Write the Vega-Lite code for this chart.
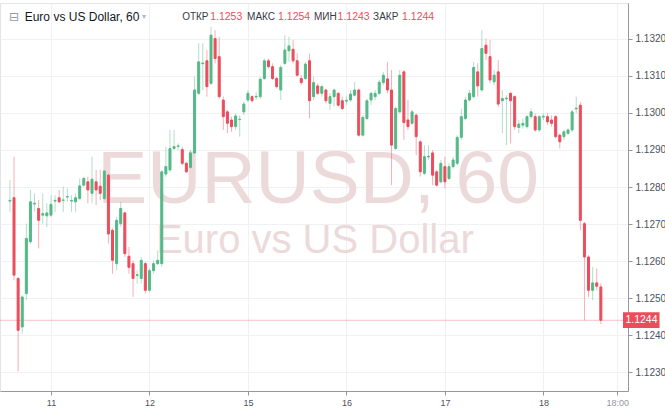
{
  "$schema": "https://vega.github.io/schema/vega-lite/v6.json",
  "width": 628,
  "height": 388,
  "autosize": {"type": "none"},
  "padding": {"left": 0, "top": 3, "right": 37, "bottom": 19},
  "background": "white",
  "config": {"view": {"stroke": "#e0e3eb"}, "font": "Liberation Sans"},
  "datasets": {
    "one": [{}],
    "candles": [
      {"i":1,"o":1.12762,"h":1.12819,"l":1.12733,"c":1.12764},
      {"i":2,"o":1.12771,"h":1.12882,"l":1.12548,"c":1.12562},
      {"i":3,"o":1.12553,"h":1.12557,"l":1.12302,"c":1.12413},
      {"i":4,"o":1.12422,"h":1.12508,"l":1.12404,"c":1.12503},
      {"i":5,"o":1.12512,"h":1.12701,"l":1.12494,"c":1.12661},
      {"i":6,"o":1.12652,"h":1.12792,"l":1.12647,"c":1.12760},
      {"i":7,"o":1.12754,"h":1.12783,"l":1.12733,"c":1.12756},
      {"i":8,"o":1.12742,"h":1.12765,"l":1.12634,"c":1.12710},
      {"i":9,"o":1.12724,"h":1.12783,"l":1.12701,"c":1.12728},
      {"i":10,"o":1.12722,"h":1.12756,"l":1.12692,"c":1.12730},
      {"i":11,"o":1.12724,"h":1.12778,"l":1.12719,"c":1.12753},
      {"i":12,"o":1.12762,"h":1.12778,"l":1.12733,"c":1.12764},
      {"i":13,"o":1.12771,"h":1.12792,"l":1.12756,"c":1.12760},
      {"i":14,"o":1.12764,"h":1.12801,"l":1.12733,"c":1.12765},
      {"i":15,"o":1.12773,"h":1.12796,"l":1.12760,"c":1.12774},
      {"i":16,"o":1.12762,"h":1.12778,"l":1.12733,"c":1.12764},
      {"i":17,"o":1.12760,"h":1.12783,"l":1.12733,"c":1.12771},
      {"i":18,"o":1.12769,"h":1.12823,"l":1.12765,"c":1.12803},
      {"i":19,"o":1.12805,"h":1.12828,"l":1.12801,"c":1.12823},
      {"i":20,"o":1.12814,"h":1.12828,"l":1.12756,"c":1.12792},
      {"i":21,"o":1.12783,"h":1.12882,"l":1.12756,"c":1.12821},
      {"i":22,"o":1.12814,"h":1.12846,"l":1.12751,"c":1.12792},
      {"i":23,"o":1.12802,"h":1.12846,"l":1.12765,"c":1.12783},
      {"i":24,"o":1.12769,"h":1.12846,"l":1.12765,"c":1.12843},
      {"i":25,"o":1.12832,"h":1.12837,"l":1.12647,"c":1.12673},
      {"i":26,"o":1.12683,"h":1.12688,"l":1.12566,"c":1.12602},
      {"i":27,"o":1.12593,"h":1.12719,"l":1.12575,"c":1.12710},
      {"i":28,"o":1.12701,"h":1.12760,"l":1.12692,"c":1.12742},
      {"i":29,"o":1.12730,"h":1.12733,"l":1.12611,"c":1.12620},
      {"i":30,"o":1.12613,"h":1.12638,"l":1.12566,"c":1.12583},
      {"i":31,"o":1.12593,"h":1.12602,"l":1.12503,"c":1.12553},
      {"i":32,"o":1.12561,"h":1.12575,"l":1.12539,"c":1.12563},
      {"i":33,"o":1.12553,"h":1.12611,"l":1.12539,"c":1.12602},
      {"i":34,"o":1.12593,"h":1.12598,"l":1.12512,"c":1.12521},
      {"i":35,"o":1.12521,"h":1.12580,"l":1.12517,"c":1.12574},
      {"i":36,"o":1.12574,"h":1.12602,"l":1.12566,"c":1.12593},
      {"i":37,"o":1.12593,"h":1.12629,"l":1.12589,"c":1.12602},
      {"i":38,"o":1.12593,"h":1.12846,"l":1.12584,"c":1.12841},
      {"i":39,"o":1.12835,"h":1.12909,"l":1.12828,"c":1.12855},
      {"i":40,"o":1.12846,"h":1.12954,"l":1.12841,"c":1.12904},
      {"i":41,"o":1.12904,"h":1.12954,"l":1.12900,"c":1.12909},
      {"i":42,"o":1.12910,"h":1.12918,"l":1.12900,"c":1.12911},
      {"i":43,"o":1.12901,"h":1.12909,"l":1.12859,"c":1.12864},
      {"i":44,"o":1.12864,"h":1.12868,"l":1.12838,"c":1.12841},
      {"i":45,"o":1.12853,"h":1.12900,"l":1.12850,"c":1.12892},
      {"i":46,"o":1.12892,"h":1.13098,"l":1.12889,"c":1.13062},
      {"i":47,"o":1.13053,"h":1.13188,"l":1.13048,"c":1.13138},
      {"i":48,"o":1.13133,"h":1.13188,"l":1.13062,"c":1.13135},
      {"i":49,"o":1.13141,"h":1.13170,"l":1.13044,"c":1.13071},
      {"i":50,"o":1.13080,"h":1.13233,"l":1.13075,"c":1.13210},
      {"i":51,"o":1.13201,"h":1.13224,"l":1.13134,"c":1.13147},
      {"i":52,"o":1.13152,"h":1.13206,"l":1.13039,"c":1.13044},
      {"i":53,"o":1.13035,"h":1.13044,"l":1.12954,"c":1.12990},
      {"i":54,"o":1.13003,"h":1.13008,"l":1.12945,"c":1.12972},
      {"i":55,"o":1.12981,"h":1.12990,"l":1.12949,"c":1.12963},
      {"i":56,"o":1.12963,"h":1.12999,"l":1.12954,"c":1.12992},
      {"i":57,"o":1.12982,"h":1.12994,"l":1.12936,"c":1.12983},
      {"i":58,"o":1.13003,"h":1.13030,"l":1.12994,"c":1.13024},
      {"i":59,"o":1.13035,"h":1.13062,"l":1.13030,"c":1.13053},
      {"i":60,"o":1.13044,"h":1.13048,"l":1.13028,"c":1.13033},
      {"i":61,"o":1.13043,"h":1.13057,"l":1.13035,"c":1.13045},
      {"i":62,"o":1.13044,"h":1.13098,"l":1.13039,"c":1.13091},
      {"i":63,"o":1.13093,"h":1.13147,"l":1.13089,"c":1.13141},
      {"i":64,"o":1.13141,"h":1.13147,"l":1.13120,"c":1.13125},
      {"i":65,"o":1.13125,"h":1.13134,"l":1.13089,"c":1.13093},
      {"i":66,"o":1.13093,"h":1.13098,"l":1.13066,"c":1.13071},
      {"i":67,"o":1.13062,"h":1.13129,"l":1.13035,"c":1.13123},
      {"i":68,"o":1.13134,"h":1.13210,"l":1.13129,"c":1.13170},
      {"i":69,"o":1.13168,"h":1.13206,"l":1.13138,"c":1.13181},
      {"i":70,"o":1.13172,"h":1.13197,"l":1.13134,"c":1.13141},
      {"i":71,"o":1.13141,"h":1.13161,"l":1.13098,"c":1.13102},
      {"i":72,"o":1.13093,"h":1.13102,"l":1.13075,"c":1.13082},
      {"i":73,"o":1.13093,"h":1.13138,"l":1.13089,"c":1.13132},
      {"i":74,"o":1.13141,"h":1.13161,"l":1.12985,"c":1.13033},
      {"i":75,"o":1.13044,"h":1.13098,"l":1.13035,"c":1.13082},
      {"i":76,"o":1.13073,"h":1.13080,"l":1.13048,"c":1.13053},
      {"i":77,"o":1.13053,"h":1.13075,"l":1.13044,"c":1.13071},
      {"i":78,"o":1.13062,"h":1.13066,"l":1.13026,"c":1.13033},
      {"i":79,"o":1.13026,"h":1.13053,"l":1.13008,"c":1.13044},
      {"i":80,"o":1.13044,"h":1.13066,"l":1.13017,"c":1.13062},
      {"i":81,"o":1.13053,"h":1.13057,"l":1.13017,"c":1.13021},
      {"i":82,"o":1.13033,"h":1.13044,"l":1.13008,"c":1.13012},
      {"i":83,"o":1.13032,"h":1.13044,"l":1.13021,"c":1.13034},
      {"i":84,"o":1.13035,"h":1.13062,"l":1.13030,"c":1.13051},
      {"i":85,"o":1.13048,"h":1.13084,"l":1.13044,"c":1.13062},
      {"i":86,"o":1.13062,"h":1.13066,"l":1.12936,"c":1.12940},
      {"i":87,"o":1.12940,"h":1.12994,"l":1.12936,"c":1.12988},
      {"i":88,"o":1.12985,"h":1.13039,"l":1.12981,"c":1.13033},
      {"i":89,"o":1.13035,"h":1.13057,"l":1.13021,"c":1.13053},
      {"i":90,"o":1.13044,"h":1.13062,"l":1.13035,"c":1.13053},
      {"i":91,"o":1.13053,"h":1.13089,"l":1.13048,"c":1.13083},
      {"i":92,"o":1.13082,"h":1.13111,"l":1.13075,"c":1.13102},
      {"i":93,"o":1.13092,"h":1.13138,"l":1.13053,"c":1.13062},
      {"i":94,"o":1.13062,"h":1.13116,"l":1.12805,"c":1.12913},
      {"i":95,"o":1.12904,"h":1.13017,"l":1.12900,"c":1.13012},
      {"i":96,"o":1.13003,"h":1.13116,"l":1.12999,"c":1.13102},
      {"i":97,"o":1.13111,"h":1.13116,"l":1.12927,"c":1.12974},
      {"i":98,"o":1.12981,"h":1.13035,"l":1.12954,"c":1.12963},
      {"i":99,"o":1.12972,"h":1.13008,"l":1.12967,"c":1.13003},
      {"i":100,"o":1.12994,"h":1.12999,"l":1.12886,"c":1.12936},
      {"i":101,"o":1.12922,"h":1.12927,"l":1.12828,"c":1.12841},
      {"i":102,"o":1.12837,"h":1.12913,"l":1.12832,"c":1.12882},
      {"i":103,"o":1.12881,"h":1.12913,"l":1.12873,"c":1.12883},
      {"i":104,"o":1.12892,"h":1.12900,"l":1.12805,"c":1.12832},
      {"i":105,"o":1.12841,"h":1.12846,"l":1.12801,"c":1.12805},
      {"i":106,"o":1.12814,"h":1.12873,"l":1.12810,"c":1.12864},
      {"i":107,"o":1.12855,"h":1.12882,"l":1.12796,"c":1.12814},
      {"i":108,"o":1.12823,"h":1.12864,"l":1.12819,"c":1.12855},
      {"i":109,"o":1.12855,"h":1.12882,"l":1.12850,"c":1.12873},
      {"i":110,"o":1.12864,"h":1.12940,"l":1.12859,"c":1.12934},
      {"i":111,"o":1.12934,"h":1.13012,"l":1.12927,"c":1.12990},
      {"i":112,"o":1.12985,"h":1.13044,"l":1.12981,"c":1.13035},
      {"i":113,"o":1.13035,"h":1.13062,"l":1.13030,"c":1.13053},
      {"i":114,"o":1.13044,"h":1.13138,"l":1.13039,"c":1.13123},
      {"i":115,"o":1.13111,"h":1.13134,"l":1.13044,"c":1.13073},
      {"i":116,"o":1.13062,"h":1.13224,"l":1.13057,"c":1.13174},
      {"i":117,"o":1.13183,"h":1.13201,"l":1.13143,"c":1.13161},
      {"i":118,"o":1.13152,"h":1.13197,"l":1.13080,"c":1.13089},
      {"i":119,"o":1.13084,"h":1.13116,"l":1.13075,"c":1.13102},
      {"i":120,"o":1.13111,"h":1.13143,"l":1.13017,"c":1.13024},
      {"i":121,"o":1.13033,"h":1.13062,"l":1.12945,"c":1.13039},
      {"i":122,"o":1.13038,"h":1.13048,"l":1.12913,"c":1.13040},
      {"i":123,"o":1.13053,"h":1.13057,"l":1.12918,"c":1.13033},
      {"i":124,"o":1.13044,"h":1.13048,"l":1.12954,"c":1.12963},
      {"i":125,"o":1.12961,"h":1.12981,"l":1.12945,"c":1.12970},
      {"i":126,"o":1.12967,"h":1.12985,"l":1.12958,"c":1.12972},
      {"i":127,"o":1.12963,"h":1.12994,"l":1.12958,"c":1.12990},
      {"i":128,"o":1.12990,"h":1.13012,"l":1.12985,"c":1.13003},
      {"i":129,"o":1.12990,"h":1.12999,"l":1.12949,"c":1.12954},
      {"i":130,"o":1.12954,"h":1.12994,"l":1.12949,"c":1.12990},
      {"i":131,"o":1.12989,"h":1.12999,"l":1.12981,"c":1.12991},
      {"i":132,"o":1.12990,"h":1.12999,"l":1.12967,"c":1.12976},
      {"i":133,"o":1.12981,"h":1.12994,"l":1.12963,"c":1.12972},
      {"i":134,"o":1.12990,"h":1.12994,"l":1.12931,"c":1.12936},
      {"i":135,"o":1.12940,"h":1.12945,"l":1.12904,"c":1.12922},
      {"i":136,"o":1.12936,"h":1.12954,"l":1.12927,"c":1.12949},
      {"i":137,"o":1.12945,"h":1.12958,"l":1.12940,"c":1.12954},
      {"i":138,"o":1.12954,"h":1.13008,"l":1.12949,"c":1.13003},
      {"i":139,"o":1.13011,"h":1.13044,"l":1.12999,"c":1.13013},
      {"i":140,"o":1.13021,"h":1.13030,"l":1.12683,"c":1.12710},
      {"i":141,"o":1.12701,"h":1.12706,"l":1.12440,"c":1.12611},
      {"i":142,"o":1.12611,"h":1.12616,"l":1.12503,"c":1.12521},
      {"i":143,"o":1.12521,"h":1.12584,"l":1.12494,"c":1.12541},
      {"i":144,"o":1.12541,"h":1.12580,"l":1.12521,"c":1.12532},
      {"i":145,"o":1.12530,"h":1.12540,"l":1.12430,"c":1.12440}
    ]
  },
  "layer": [
    {
      "data": {"name": "one"},
      "mark": {"type": "text", "font": "Liberation Sans", "fontSize": 75, "color": "#ecdadb", "align": "center", "baseline": "alphabetic"},
      "encoding": {
        "x": {"datum": 76.1, "scale": {"domain": [-0.2, 150.4], "nice": false, "zero": false},
          "axis": {"orient": "bottom", "values": [11, 35, 59, 83, 107, 131, 149], "title": null,
            "labelExpr": "datum.value == 11 ? '11' : datum.value == 35 ? '12' : datum.value == 59 ? '15' : datum.value == 83 ? '16' : datum.value == 107 ? '17' : datum.value == 131 ? '18' : '18:00'",
            "labelFontSize": 9, "labelFont": "Liberation Sans",
            "labelColor": {"condition": {"test": "datum.value == 149", "value": "#9598a1"}, "value": "#4c525e"},
            "labelPadding": 3, "tickSize": 4, "tickColor": "#9598a1", "domainColor": "#9598a1",
            "grid": true, "gridColor": "#eff1f5", "labelFlush": false}},
        "y": {"datum": 1.12757, "scale": {"domain": [1.12249, 1.13297], "nice": false, "zero": false},
          "axis": {"orient": "right", "values": [1.123, 1.124, 1.125, 1.126, 1.127, 1.128, 1.129, 1.130, 1.131, 1.132],
            "format": ".4f", "title": null, "labelFontSize": 10, "labelFont": "Liberation Sans", "labelColor": "#4c525e",
            "labelPadding": 3, "tickSize": 4, "tickColor": "#9598a1", "domainColor": "#9598a1",
            "grid": true, "gridColor": "#eff1f5"}},
        "text": {"value": "EURUSD, 60"}
      }
    },
    {
      "data": {"name": "one"},
      "mark": {"type": "text", "font": "Liberation Sans", "fontSize": 40, "color": "#ecdadb", "align": "center", "baseline": "alphabetic"},
      "encoding": {
        "x": {"datum": 75.3},
        "y": {"datum": 1.12622},
        "text": {"value": "Euro vs US Dollar"}
      }
    },
    {
      "data": {"name": "one"},
      "mark": {"type": "rule", "color": "#eb4d5c", "opacity": 0.35, "strokeWidth": 1},
      "encoding": {"y": {"datum": 1.1244}}
    },
    {
      "data": {"name": "candles"},
      "mark": {"type": "rule", "strokeWidth": 1, "opacity": 0.45},
      "encoding": {
        "x": {"field": "i", "type": "quantitative"},
        "y": {"field": "l", "type": "quantitative"},
        "y2": {"field": "h"},
        "color": {"condition": {"test": "datum.c < datum.o", "value": "#eb4d5c"}, "value": "#53b987"}
      }
    },
    {
      "data": {"name": "candles"},
      "mark": {"type": "bar", "width": 2, "strokeWidth": 1},
      "encoding": {
        "x": {"field": "i", "type": "quantitative"},
        "y": {"field": "o", "type": "quantitative"},
        "y2": {"field": "c"},
        "fill": {"condition": {"test": "datum.c < datum.o", "value": "#eb4d5c"}, "value": "#53b987"},
        "stroke": {"condition": {"test": "datum.c < datum.o", "value": "#eb4d5c"}, "value": "#53b987"}
      }
    },
    {
      "data": {"name": "one"},
      "mark": {"type": "rect", "color": "#eb4d5c"},
      "encoding": {"x": {"datum": 150.4}, "x2": {"datum": 159.3}, "y": {"datum": 1.12462}, "y2": {"datum": 1.12419}}
    },
    {
      "data": {"name": "one"},
      "mark": {"type": "text", "font": "Liberation Sans", "fontSize": 10.5, "color": "white", "align": "center", "baseline": "middle"},
      "encoding": {"x": {"datum": 154.9}, "y": {"datum": 1.1244}, "text": {"value": "1.1244"}}
    },
    {
      "data": {"name": "one"},
      "mark": {"type": "text", "font": "DejaVu Sans", "fontSize": 12, "color": "#9598a1", "align": "left", "baseline": "middle"},
      "encoding": {"x": {"datum": 0.76}, "y": {"datum": 1.13259}, "text": {"value": "⊟"}}
    },
    {
      "data": {"name": "one"},
      "mark": {"type": "text", "font": "Liberation Sans", "fontSize": 12, "color": "#131722", "align": "left", "baseline": "middle"},
      "encoding": {"x": {"datum": 4.6}, "y": {"datum": 1.13259}, "text": {"value": "Euro vs US Dollar, 60"}}
    },
    {
      "data": {"name": "one"},
      "mark": {"type": "text", "font": "DejaVu Sans", "fontSize": 8, "color": "#b2b5be", "align": "left", "baseline": "middle"},
      "encoding": {"x": {"datum": 33.2}, "y": {"datum": 1.13259}, "text": {"value": "▾"}}
    },
    {
      "data": {"name": "one"},
      "mark": {"type": "text", "font": "Liberation Sans", "fontSize": 10, "color": "#363a45", "align": "left", "baseline": "middle"},
      "encoding": {"x": {"datum": 42.97}, "y": {"datum": 1.13259}, "text": {"value": "ОТКР"}}
    },
    {
      "data": {"name": "one"},
      "mark": {"type": "text", "font": "Liberation Sans", "fontSize": 10.5, "color": "#eb4d5c", "align": "left", "baseline": "middle"},
      "encoding": {"x": {"datum": 49.8}, "y": {"datum": 1.13259}, "text": {"value": "1.1253"}}
    },
    {
      "data": {"name": "one"},
      "mark": {"type": "text", "font": "Liberation Sans", "fontSize": 10, "color": "#363a45", "align": "left", "baseline": "middle"},
      "encoding": {"x": {"datum": 58.8}, "y": {"datum": 1.13259}, "text": {"value": "МАКС"}}
    },
    {
      "data": {"name": "one"},
      "mark": {"type": "text", "font": "Liberation Sans", "fontSize": 10.5, "color": "#eb4d5c", "align": "left", "baseline": "middle"},
      "encoding": {"x": {"datum": 66.35}, "y": {"datum": 1.13259}, "text": {"value": "1.1254"}}
    },
    {
      "data": {"name": "one"},
      "mark": {"type": "text", "font": "Liberation Sans", "fontSize": 10, "color": "#363a45", "align": "left", "baseline": "middle"},
      "encoding": {"x": {"datum": 75.1}, "y": {"datum": 1.13259}, "text": {"value": "МИН"}}
    },
    {
      "data": {"name": "one"},
      "mark": {"type": "text", "font": "Liberation Sans", "fontSize": 10.5, "color": "#eb4d5c", "align": "left", "baseline": "middle"},
      "encoding": {"x": {"datum": 80.85}, "y": {"datum": 1.13259}, "text": {"value": "1.1243"}}
    },
    {
      "data": {"name": "one"},
      "mark": {"type": "text", "font": "Liberation Sans", "fontSize": 10, "color": "#363a45", "align": "left", "baseline": "middle"},
      "encoding": {"x": {"datum": 89.5}, "y": {"datum": 1.13259}, "text": {"value": "ЗАКР"}}
    },
    {
      "data": {"name": "one"},
      "mark": {"type": "text", "font": "Liberation Sans", "fontSize": 10.5, "color": "#eb4d5c", "align": "left", "baseline": "middle"},
      "encoding": {"x": {"datum": 96.56}, "y": {"datum": 1.13259}, "text": {"value": "1.1244"}}
    }
  ]
}
